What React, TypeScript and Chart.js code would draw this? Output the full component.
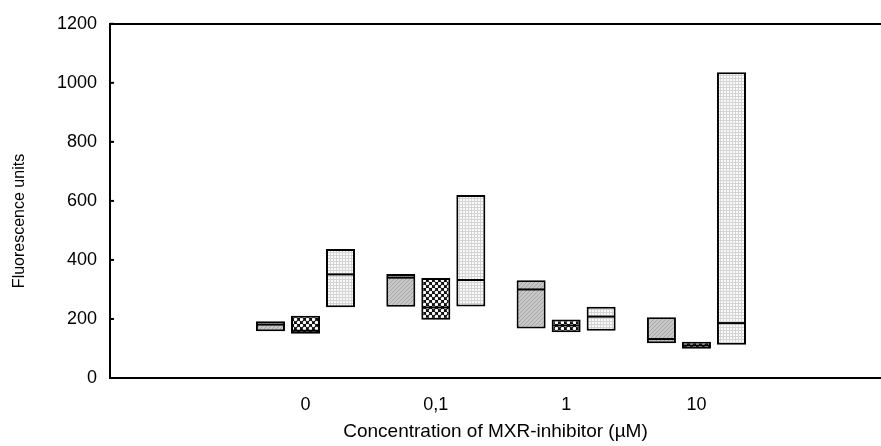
import { useEffect, useRef } from "react";
import { Chart, registerables } from "chart.js";

Chart.register(...registerables);

const categories = ["0", "0,1", "1", "10"];
const yTickValues = [0, 200, 400, 600, 800, 1000, 1200];

// series A (diagonal hatch, grey)
const aLow = [158, 241, 168, 118];
const aHigh = [192, 352, 331, 206];
const aMedian = [181, 340, 300, 132];
// series B (cross-hatch)
const bLow = [150, 197, 155, 99];
const bHigh = [211, 339, 198, 123];
const bMedian = [160, 239, 178, 110];
// series C (dotted, light)
const cLow = [240, 242, 160, 113];
const cHigh = [437, 620, 241, 1036];
const cMedian = [351, 332, 208, 186];

const xTitle = "Concentration of MXR-inhibitor (\u00b5M)";
const yTitle = "Fluorescence units";
const FONT = "'Liberation Sans', Arial, sans-serif";

function makePattern(kind: string): CanvasPattern | string {
  const c = document.createElement("canvas");
  const ctx = c.getContext("2d");
  if (!ctx) return "#ccc";
  if (kind === "diag") {
    c.width = 4; c.height = 4;
    ctx.fillStyle = "#c8c8c8";
    ctx.fillRect(0, 0, 4, 4);
    ctx.fillStyle = "#a4a4a4";
    for (let i = 0; i < 4; i++) ctx.fillRect((4 - i) % 4, i, 1, 1);
  } else if (kind === "cross") {
    c.width = 6; c.height = 6;
    ctx.fillStyle = "#111";
    ctx.fillRect(0, 0, 6, 6);
    ctx.fillStyle = "#fff";
    const pts = [[1.5, 1.5], [4.5, 4.5]];
    for (const [x, y] of pts) {
      ctx.beginPath();
      ctx.arc(x, y, 1.7, 0, Math.PI * 2);
      ctx.fill();
    }
  } else {
    c.width = 3; c.height = 3;
    ctx.fillStyle = "#fafafa";
    ctx.fillRect(0, 0, 3, 3);
    ctx.fillStyle = "#d4d4d4";
    ctx.fillRect(0, 0, 1, 3);
    ctx.fillRect(0, 0, 3, 1);
  }
  const p = ctx.createPattern(c, "repeat");
  return p || "#ccc";
}

const medians = [aMedian, bMedian, cMedian];

const boxPlugin = {
  id: "boxExtras",
  afterDatasetsDraw(chart: any) {
    const ctx = chart.ctx;
    const y = chart.scales.y;
    ctx.save();
    ctx.strokeStyle = "#000";
    ctx.lineWidth = 2;
    chart.data.datasets.forEach((_: any, di: number) => {
      const meta = chart.getDatasetMeta(di);
      meta.data.forEach((el: any, i: number) => {
        const py = y.getPixelForValue(medians[di][i]);
        const half = el.width / 2;
        ctx.beginPath();
        ctx.moveTo(el.x - half + 1, py);
        ctx.lineTo(el.x + half - 1, py);
        ctx.stroke();
      });
    });
    // inward tick marks on y axis
    const left = chart.chartArea.left;
    yTickValues.forEach((v) => {
      const py = y.getPixelForValue(v);
      ctx.beginPath();
      ctx.moveTo(left, py);
      ctx.lineTo(left + 4, py);
      ctx.stroke();
    });
    ctx.restore();
  },
  afterDraw(chart: any) {
    const ctx = chart.ctx;
    ctx.save();
    ctx.fillStyle = "#000";
    ctx.font = `16px ${FONT}`;
    ctx.textAlign = "center";
    ctx.textBaseline = "middle";
    ctx.translate(20, chart.height / 2 - 2);
    ctx.rotate(-Math.PI / 2);
    ctx.fillText(yTitle, 0, 0);
    ctx.restore();
  },
};

export default function App() {
  const ref = useRef<HTMLCanvasElement | null>(null);
  useEffect(() => {
    if (!ref.current) return;
    const pA = makePattern("diag");
    const pB = makePattern("cross");
    const pC = makePattern("dots");
    const mk = (low: number[], high: number[], fill: any, label: string) => ({
      label,
      data: categories.map((_, i) => ({ x: i + 1, y: [low[i], high[i]] })),
      backgroundColor: fill,
      borderColor: "#000",
      borderWidth: 2,
      borderSkipped: false,
      categoryPercentage: 0.806,
      barPercentage: 0.8286,
    });
    const chart = new Chart(ref.current, {
      type: "bar",
      data: {
        datasets: [
          mk(aLow, aHigh, pA, "A"),
          mk(bLow, bHigh, pB, "B"),
          mk(cLow, cHigh, pC, "C"),
        ] as any,
      },
      options: {
        animation: false,
        responsive: true,
        maintainAspectRatio: false,
        layout: { padding: { top: 22, right: 0, left: 0, bottom: 0 } },
        plugins: {
          legend: { display: false },
          tooltip: { enabled: false },
          title: { display: false },
        },
        scales: {
          x: {
            type: "linear",
            offset: false,
            min: -0.5,
            max: 5.416,
            afterBuildTicks: (scale: any) => {
              scale.ticks = categories.map((_, i) => ({ value: i + 1 }));
            },
            afterFit: (scale: any) => {
              scale.height = 68;
            },
            ticks: {
              autoSkip: false,
              maxRotation: 0,
              padding: 16,
              color: "#000",
              font: { family: FONT, size: 18 },
              callback: (v: any) => categories[Number(v) - 1] ?? "",
            },
            grid: { display: false, drawTicks: false },
            border: { display: true, color: "#000", width: 2 },
            title: {
              display: true,
              text: xTitle,
              color: "#000",
              font: { family: FONT, size: 19 },
              padding: { top: 0, bottom: 3 },
            },
          },
          y: {
            min: 0,
            max: 1200,
            afterBuildTicks: (scale: any) => {
              scale.ticks = yTickValues.map((v) => ({ value: v }));
            },
            afterFit: (scale: any) => {
              scale.width = 110;
            },
            ticks: {
              padding: 13,
              color: "#000",
              font: { family: FONT, size: 18 },
              callback: (v: any) => String(v),
            },
            grid: {
              drawTicks: false,
              lineWidth: 2,
              color: (c: any) => (c.tick && c.tick.value === 1200 ? "#000" : "rgba(0,0,0,0)"),
            },
            border: { display: true, color: "#000", width: 2 },
            title: { display: false },
          },
        },
      },
      plugins: [boxPlugin],
    });
    return () => chart.destroy();
  }, []);
  return (
    <div style={{ position: "absolute", left: 0, top: 0, width: 881, height: 446 }}>
      <canvas ref={ref} />
    </div>
  );
}
